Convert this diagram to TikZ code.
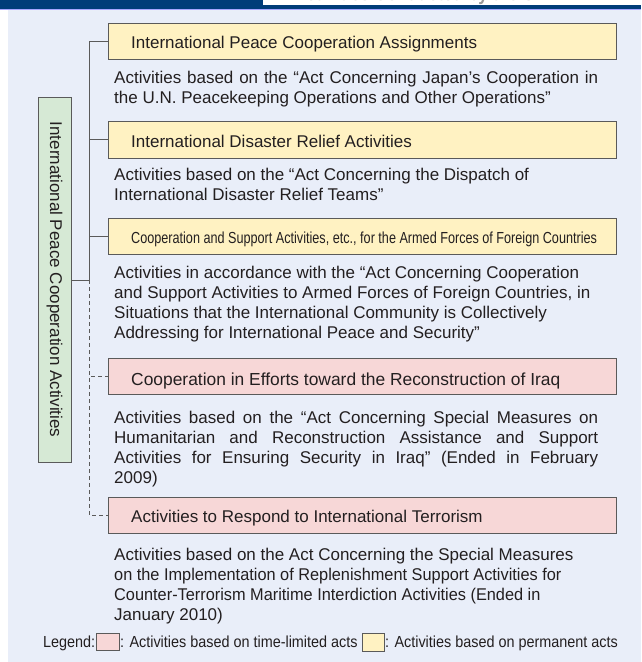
\documentclass[tikz,border=0pt]{standalone}
\usepackage{fontspec}
\setmainfont{Liberation Sans}
\newfontfamily\titlefont{Liberation Sans}
\newfontfamily\condfont[FakeStretch=0.79]{Liberation Sans}
\newfontfamily\legfont[FakeStretch=0.9]{Liberation Sans}
\newfontfamily\narrowfont[FakeStretch=0.96]{Liberation Sans}
\newfontfamily\headfont[FakeStretch=0.85]{Liberation Sans Bold}
\definecolor{bg}{HTML}{E9EEF9}
\definecolor{navy}{HTML}{003D79}
\definecolor{yel}{HTML}{FFF2C2}
\definecolor{pnk}{HTML}{F7D7D7}
\definecolor{grn}{HTML}{D6E9D5}
\definecolor{bord}{HTML}{5A5A5A}
\definecolor{txt}{HTML}{231F20}
\tikzset{
  box/.style={draw=bord, line width=1pt, minimum width=508pt, minimum height=36pt, inner sep=0pt},
  ttl/.style={anchor=base west, inner sep=0pt, text=txt, font=\titlefont\fontsize{17}{20}\selectfont},
  desc/.style={anchor=base west, inner sep=0pt, text=txt, font=\fontsize{17}{20}\selectfont},
  leg/.style={anchor=base west, inner sep=0pt, text=txt, font=\legfont\fontsize{16}{18}\selectfont},
  conn/.style={draw=bord, line width=1pt},
  dconn/.style={draw=bord, line width=1pt, dash pattern=on 4pt off 3pt},
}
\begin{document}
\begin{tikzpicture}[x=1pt,y=-1pt]
\useasboundingbox (0,0) rectangle (641,662);
% background and header
\fill[white] (0,0) rectangle (641,662);
\fill[bg] (8,9) rectangle (641,662);
\fill[navy] (0,0) rectangle (263,8.5);
\begin{scope}
  \clip (263,0) rectangle (641,5);
  \node[anchor=base west, inner sep=0pt, text=gray!80, font=\headfont\fontsize{20}{22}\selectfont] (head) at (294,0.6) {Activities Conducted by the SDF};
\end{scope}
\fill[navy] (263,5) rectangle (641,8.5);
\fill[blue!35] (0,8.5) rectangle (641,9.5);
% boxes
\node[box, fill=yel] (b1) at (362,41) {};
\node[box, fill=yel, minimum height=37pt] (b2) at (362,139.5) {};
\node[box, fill=yel] (b3) at (362,236) {};
\node[box, fill=pnk] (b4) at (362,376) {};
\node[box, fill=pnk] (b5) at (362,515) {};
\node[ttl] (t1) at (131,48) {International Peace Cooperation Assignments};
\node[ttl] (t2) at (131,147) {International Disaster Relief Activities};
\node[ttl, font=\condfont\fontsize{16}{18}\selectfont] (t3) at (131,243) {Cooperation and Support Activities, etc., for the Armed Forces of Foreign Countries};
\node[ttl, font=\titlefont\fontsize{17.4}{20}\selectfont] (t4) at (131,385) {Cooperation in Efforts toward the Reconstruction of Iraq};
\node[ttl] (t5) at (131,522) {Activities to Respond to International Terrorism};
% green box
\node[draw=bord, line width=1pt, fill=grn, minimum width=33pt, minimum height=365pt, inner sep=0pt] (g) at (54.5,279.5) {};
\node[rotate=-90, inner sep=0pt, text=txt, font=\titlefont\fontsize{17}{20}\selectfont] (gl) at (g.center) {International Peace Cooperation Activities};
% connectors
\coordinate (j) at (89,280);
\draw[conn] (g.east |- j) -- (j);
\draw[conn] (j) |- (b1.west);
\draw[conn] (j) |- (b2.west);
\draw[conn] (j) |- (b3.west);
\draw[dconn] (j) |- (b4.west);
\draw[dconn] (j) |- (b5.west);
% descriptions
\node[desc] (d11) at (114,83) {\makebox[484pt][s]{Activities based on the “Act Concerning Japan’s Cooperation in}};
\node[desc] (d12) at (114,103) {the U.N. Peacekeeping Operations and Other Operations”};
\node[desc] (d21) at (114,180) {Activities based on the “Act Concerning the Dispatch of};
\node[desc] (d22) at (114,200) {International Disaster Relief Teams”};
\node[desc] (d31) at (114,278) {Activities in accordance with the “Act Concerning Cooperation};
\node[desc] (d32) at (114,298) {and Support Activities to Armed Forces of Foreign Countries, in};
\node[desc] (d33) at (114,318) {Situations that the International Community is Collectively};
\node[desc] (d34) at (114,338) {Addressing for International Peace and Security”};
\node[desc] (d41) at (114,423) {\makebox[484pt][s]{Activities based on the “Act Concerning Special Measures on}};
\node[desc] (d42) at (114,443) {\makebox[484pt][s]{Humanitarian and Reconstruction Assistance and Support}};
\node[desc] (d43) at (114,463) {\makebox[484pt][s]{Activities for Ensuring Security in Iraq” (Ended in February}};
\node[desc] (d44) at (114,483) {2009)};
\node[desc] (d51) at (114,560) {Activities based on the Act Concerning the Special Measures};
\node[desc, font=\narrowfont\fontsize{17}{20}\selectfont] (d52) at (114,580) {on the Implementation of Replenishment Support Activities for};
\node[desc, font=\narrowfont\fontsize{17}{20}\selectfont] (d53) at (114,600) {Counter-Terrorism Maritime Interdiction Activities (Ended in};
\node[desc] (d54) at (114,620) {January 2010)};
% legend
\node[leg] (lg) at (43,647) {Legend:};
\node[draw=bord, line width=1pt, fill=pnk, minimum width=23pt, minimum height=17pt, inner sep=0pt] (lp) at (107.5,641.5) {};
\node[leg] (lpt) at (120,647) {: Activities based on time-limited acts};
\node[draw=bord, line width=1pt, fill=yel, minimum width=22pt, minimum height=18pt, inner sep=0pt] (ly) at (373,642) {};
\node[leg] (lyt) at (385,647) {: Activities based on permanent acts};
\end{tikzpicture}
\end{document}
